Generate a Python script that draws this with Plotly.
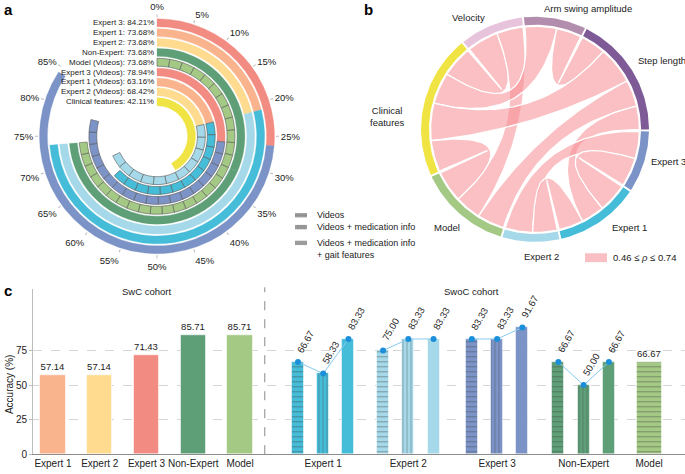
import math
import plotly.graph_objects as go

W, H = 685, 474


def px_x(x):
    return x / W


def px_y(y):
    return 1 - y / H


FONT = "Liberation Sans, Arial, sans-serif"
TXT = "#222222"

# ---------------- Panel a data ----------------
ring_labels = ["Expert 3", "Expert 1", "Expert 2", "Non-Expert", "Model (Videos)",
               "Expert 3 (Videos)", "Expert 1 (Videos)", "Expert 2 (Videos)", "Clinical features"]
ring_total = [84.21, 73.68, 73.68, 73.68, 73.68, 78.94, 63.16, 68.42, 42.11]
ring_swc = [26.32, 21.05, 21.05, 31.58, 31.58, 26.32, 21.05, 21.05, 42.11]
ring_swoc = [57.89, 52.63, 52.63, 42.10, 42.10, 52.63, 42.11, 47.37, 0.0]
pct_ticks = list(range(0, 90, 5))

# ---------------- Panel b data ----------------
chord_nodes = ["Velocity", "Arm swing amplitude", "Step length", "Expert 3",
               "Expert 1", "Expert 2", "Model", "Clinical features"]
chord_src = ["Velocity", "Velocity", "Arm swing amplitude", "Arm swing amplitude",
             "Step length", "Step length", "Step length", "Expert 3", "Expert 3",
             "Expert 1", "Model"]
chord_dst = ["Clinical features", "Model", "Clinical features", "Step length",
             "Clinical features", "Model", "Expert 1", "Expert 2", "Expert 1",
             "Expert 2", "Clinical features"]
chord_rho = [0.62, 0.52, 0.62, 0.49, 0.74, 0.53, 0.46, 0.54, 0.57, 0.48, 0.62]

# ---------------- Panel c data ----------------
swc_labels = ["Expert 1", "Expert 2", "Expert 3", "Non-Expert", "Model"]
swc_acc = [57.14, 57.14, 71.43, 85.71, 85.71]
swoc_labels = ["Expert 1", "Expert 2", "Expert 3", "Non-Expert", "Model"]
swoc_videos = [66.67, 75.00, 83.33, 66.67, 66.67]
swoc_med = [58.33, 83.33, 83.33, 50.00]
swoc_gait = [83.33, 83.33, 91.67, 66.67]

# ---------------- styles ----------------
C_E1, C_E2, C_E3 = "#F9B48E", "#FEDB8F", "#F28B82"
C_NE, C_MO = "#5E9F78", "#A3C985"
C_E1o, C_E2o, C_E3o = "#45BCD8", "#A5D8E8", "#7B93C6"
C_CF = "#EFE443"
ring_swc_colors = [C_E3, C_E1, C_E2, C_NE, C_MO, C_E3, C_E1, C_E2, C_CF]
ring_swoc_colors = [C_E3o, C_E1o, C_E2o, C_NE, C_MO, C_E3o, C_E1o, C_E2o, C_CF]
ring_swc_cells = [False, False, False, False, True, False, False, False, False]
ring_swoc_cells = [False, False, False, False, True, True, True, True, False]

node_colors = {"Velocity": "#E8C4DC", "Arm swing amplitude": "#B38DAD", "Step length": "#7E5A96",
               "Expert 3": "#7B93C6", "Expert 1": "#45BCD8", "Expert 2": "#A5D8E8",
               "Model": "#A3C985", "Clinical features": "#EFE443"}
end_order = {
    "Velocity": ["Clinical features", "Model"],
    "Arm swing amplitude": ["Clinical features", "Step length"],
    "Step length": ["Arm swing amplitude", "Clinical features", "Model", "Expert 1"],
    "Expert 3": ["Expert 2", "Expert 1"],
    "Expert 1": ["Expert 3", "Step length", "Expert 2"],
    "Expert 2": ["Expert 1", "Expert 3"],
    "Model": ["Step length", "Velocity", "Clinical features"],
    "Clinical features": ["Model", "Step length", "Arm swing amplitude", "Velocity"],
}

fig = go.Figure()
annotations = []
shapes = []

# ================= Panel a : radial bars =================
R_PX, R_MAX, PITCH, THICK, INNER0 = 120.0, 12.0, 1.0, 0.8, 3.1
CX_A, CY_A = 157, 138
n_rings = len(ring_labels)
rr, bb, th, ww, cc, lc, lw = [], [], [], [], [], [], []


def add_seg(base, p0, p1, col, line_col, line_w):
    rr.append(THICK)
    bb.append(base)
    th.append((p0 + p1) / 2 * 3.6)
    ww.append((p1 - p0) * 3.6)
    cc.append(col)
    lc.append(line_col)
    lw.append(line_w)


for i in range(n_rings):
    base = INNER0 + (n_rings - 1 - i) * PITCH
    segs = [(0.0, ring_swc[i], ring_swc_colors[i], ring_swc_cells[i]),
            (ring_swc[i], ring_swc[i] + ring_swoc[i], ring_swoc_colors[i], ring_swoc_cells[i])]
    for p0, p1, col, cells in segs:
        if p1 - p0 <= 0:
            continue
        if cells:
            arc_px = math.radians((p1 - p0) * 3.6) * (base + THICK / 2) * R_PX / R_MAX
            k = max(1, round(arc_px / 12))
            for j in range(k):
                add_seg(base, p0 + (p1 - p0) * j / k, p0 + (p1 - p0) * (j + 1) / k, col, "#5a5a5a", 0.6)
        else:
            add_seg(base, p0, p1, col, col, 0.3)
    ly = CY_A - (base + THICK / 2) * R_PX / R_MAX
    annotations.append(dict(x=px_x(CX_A - 1), y=px_y(ly), xref="paper", yref="paper",
                            text=f"{ring_labels[i]}: {ring_total[i]:.2f}%", showarrow=False,
                            xanchor="right", yanchor="middle", font=dict(size=8, color=TXT)))

fig.add_trace(go.Barpolar(r=rr, base=bb, theta=th, width=ww,
                          marker=dict(color=cc, line=dict(color=lc, width=lw)),
                          subplot="polar", showlegend=False, hoverinfo="skip"))

# legend of panel a
leg_items = [("Videos", 218, "h"), ("Videos + medication info", 230, "v"),
             ("Videos + medication info<br>+ gait features", 246, "s")]
for text, y, kind in leg_items:
    shapes.append(dict(type="rect", xref="paper", yref="paper", x0=px_x(295), x1=px_x(307),
                       y0=px_y(y + 2.2), y1=px_y(y - 2.2), fillcolor="#9c9c9c", line=dict(width=0)))
    if kind == "h":
        shapes.append(dict(type="line", xref="paper", yref="paper", x0=px_x(295), x1=px_x(307),
                           y0=px_y(y), y1=px_y(y), line=dict(color="#808080", width=0.6)))
    elif kind == "v":
        for xx in (298, 301, 304):
            shapes.append(dict(type="line", xref="paper", yref="paper", x0=px_x(xx), x1=px_x(xx),
                               y0=px_y(y + 2.2), y1=px_y(y - 2.2), line=dict(color="#808080", width=0.6)))
    annotations.append(dict(x=px_x(315), y=px_y(y if kind != "s" else y + 6), xref="paper", yref="paper",
                            text=text, showarrow=False, xanchor="left", yanchor="middle", align="left",
                            font=dict(size=9, color=TXT)))

# ================= Panel b : chord diagram =================
GAP = 1.0
START = 321.0
RC, RA_IN, RA_OUT = 0.985, 1.0, 1.075
CX_B, CY_B, UNIT_B = 535, 131, 106
rho_of = {}
for s, d, r in zip(chord_src, chord_dst, chord_rho):
    rho_of[(s, d)] = r
    rho_of[(d, s)] = r
kdeg = (360 - GAP * len(chord_nodes)) / (2 * sum(chord_rho))
ends, node_span = {}, {}
cur = START
for node in chord_nodes:
    s0 = cur
    for partner in end_order[node]:
        w = rho_of[(node, partner)] * kdeg
        ends[(node, partner)] = (cur, cur + w)
        cur += w
    node_span[node] = (s0, cur)
    cur += GAP


def pt(t, r):
    a = math.radians(t)
    return r * math.sin(a), r * math.cos(a)


def arc(t1, t2, r):
    n = max(2, int(abs(t2 - t1) / 1.0) + 2)
    return [pt(t1 + (t2 - t1) * i / (n - 1), r) for i in range(n)]


def bez(p0, p2, n=50):
    out = []
    for i in range(n + 1):
        s = i / n
        out.append(((1 - s) ** 2 * p0[0] + s ** 2 * p2[0], (1 - s) ** 2 * p0[1] + s ** 2 * p2[1]))
    return out


for s, d in zip(chord_src, chord_dst):
    a1, a2 = ends[(s, d)]
    b1, b2 = ends[(d, s)]
    pts = arc(a1, a2, RC) + bez(pt(a2, RC), pt(b1, RC)) + arc(b1, b2, RC) + bez(pt(b2, RC), pt(a1, RC))
    fig.add_trace(go.Scatter(x=[p[0] for p in pts], y=[p[1] for p in pts], mode="lines",
                             fill="toself", fillcolor="rgba(245,140,145,0.55)",
                             line=dict(color="white", width=1.3), xaxis="x", yaxis="y",
                             showlegend=False, hoverinfo="skip"))

for node in chord_nodes:
    t1, t2 = node_span[node]
    pts = arc(t1, t2, RA_OUT) + arc(t2, t1, RA_IN)
    fig.add_trace(go.Scatter(x=[p[0] for p in pts], y=[p[1] for p in pts], mode="lines",
                             fill="toself", fillcolor=node_colors[node], line=dict(width=0),
                             xaxis="x", yaxis="y", showlegend=False, hoverinfo="skip"))

node_label_pos = {
    "Velocity": (-0.632, 1.07, "center"),
    "Arm swing amplitude": (0.5, 1.15, "center"),
    "Step length": (0.95, 0.66, "left"),
    "Expert 3": (1.075, -0.311, "left"),
    "Expert 1": (0.708, -0.934, "left"),
    "Expert 2": (0.057, -1.217, "center"),
    "Model": (-0.83, -0.934, "center"),
    "Clinical features": (-1.387, 0.123, "center"),
}
for node in chord_nodes:
    x, y, anc = node_label_pos[node]
    txt = "Clinical<br>features" if node == "Clinical features" else node
    annotations.append(dict(x=px_x(CX_B + x * UNIT_B), y=px_y(CY_B - y * UNIT_B), xref="paper", yref="paper",
                            text=txt, showarrow=False, xanchor=anc, yanchor="middle",
                            font=dict(size=9.5, color=TXT)))

shapes.append(dict(type="rect", xref="paper", yref="paper", x0=px_x(585), x1=px_x(607),
                   y0=px_y(265.5), y1=px_y(256.5), fillcolor="#F9BFC2", line=dict(width=0)))
annotations.append(dict(x=px_x(611), y=px_y(261), xref="paper", yref="paper",
                        text=f"{min(chord_rho):.2f} ≤ <i>ρ</i> ≤ {max(chord_rho):.2f}", showarrow=False,
                        xanchor="left", yanchor="middle", font=dict(size=9.5, color=TXT)))

# ================= Panel c : bars =================
swc_colors = [C_E1, C_E2, C_E3, C_NE, C_MO]
swoc_colors = [C_E1o, C_E2o, C_E3o, C_NE, C_MO]
swoc_dark = ["#2f9fbb", "#7fb8cb", "#5b72a6", "#457f5c", "#82a865"]
swc_x = list(range(len(swc_labels)))
swoc_centers = [5.78, 7.6, 9.5, 11.35, 12.75]
OFF = 0.54
BW_SMALL, BW_BIG = 0.257, 0.535

fig.add_trace(go.Bar(x=swc_x, y=swc_acc, width=BW_BIG, marker=dict(color=swc_colors,
              line=dict(color="rgba(255,255,255,0.55)", width=1)),
              text=[f"{v:.2f}" for v in swc_acc], textposition="outside", cliponaxis=False,
              textfont=dict(size=9.5, color=TXT), xaxis="x2", yaxis="y2",
              showlegend=False, hoverinfo="skip"))

ng = len(swoc_med)
vx = [swoc_centers[g] - OFF for g in range(ng)] + [swoc_centers[ng]]
fig.add_trace(go.Bar(x=vx, y=swoc_videos, width=[BW_SMALL] * ng + [BW_BIG],
              marker=dict(color=swoc_colors, line=dict(color="rgba(255,255,255,0.5)", width=1),
                          pattern=dict(shape="-", fgcolor=swoc_dark, size=5, solidity=0.18)),
              xaxis="x2", yaxis="y2", showlegend=False, hoverinfo="skip"))
mx = [swoc_centers[g] for g in range(ng)]
fig.add_trace(go.Bar(x=mx, y=swoc_med, width=BW_SMALL,
              marker=dict(color=swoc_colors[:ng], line=dict(color="rgba(255,255,255,0.5)", width=1),
                          pattern=dict(shape="|", fgcolor=swoc_dark[:ng], size=4, solidity=0.18)),
              xaxis="x2", yaxis="y2", showlegend=False, hoverinfo="skip"))
gx = [swoc_centers[g] + OFF for g in range(ng)]
fig.add_trace(go.Bar(x=gx, y=swoc_gait, width=BW_SMALL,
              marker=dict(color=swoc_colors[:ng], line=dict(color="rgba(255,255,255,0.5)", width=1)),
              xaxis="x2", yaxis="y2", showlegend=False, hoverinfo="skip"))

for g in range(ng):
    xs = [vx[g], mx[g], gx[g]]
    ys = [swoc_videos[g], swoc_med[g], swoc_gait[g]]
    fig.add_trace(go.Scatter(x=xs, y=ys, mode="lines+markers", line=dict(color="#86CBEF", width=1),
                             marker=dict(color="#1B8FDA", size=6), xaxis="x2", yaxis="y2",
                             showlegend=False, hoverinfo="skip", cliponaxis=False))
    for x, y in zip(xs, ys):
        annotations.append(dict(x=x, y=y, xref="x2", yref="y2", text=f"{y:.2f}", showarrow=False,
                                textangle=-60, xanchor="left", yanchor="bottom", xshift=-6, yshift=5,
                                font=dict(size=9.5, color=TXT)))
annotations.append(dict(x=vx[ng], y=swoc_videos[ng], xref="x2", yref="y2", text=f"{swoc_videos[ng]:.2f}",
                        showarrow=False, xanchor="center", yanchor="bottom", yshift=1,
                        font=dict(size=9.5, color=TXT)))

SEP = 4.53
shapes.append(dict(type="line", xref="x2", yref="paper", x0=SEP, x1=SEP, y0=px_y(460), y1=px_y(291),
                   line=dict(color="#8a8a8a", width=1, dash="dash")))
annotations.append(dict(x=2.0, y=px_y(295), xref="x2", yref="paper", text="SwC cohort", showarrow=False,
                        xanchor="center", yanchor="middle", font=dict(size=9.5, color=TXT)))
annotations.append(dict(x=px_x(471.5), y=px_y(295), xref="paper", yref="paper", text="SwoC cohort",
                        showarrow=False, xanchor="center", yanchor="middle", font=dict(size=9.5, color=TXT)))
annotations.append(dict(x=px_x(9), y=px_y(390), xref="paper", yref="paper", text="Accuracy (%)",
                        showarrow=False, textangle=-90, xanchor="center", yanchor="middle",
                        font=dict(size=10, color=TXT)))

# panel letters
for letter, x, y in (("a", 2, 10), ("b", 362, 10), ("c", 2, 294)):
    annotations.append(dict(x=px_x(x), y=px_y(y), xref="paper", yref="paper", text=f"<b>{letter}</b>",
                            showarrow=False, xanchor="left", yanchor="middle",
                            font=dict(size=15, color="#000")))

U = 46.75  # px per category unit in panel c
RB = 120 / UNIT_B
fig.update_layout(
    width=W, height=H, margin=dict(l=0, r=0, t=0, b=0),
    paper_bgcolor="white", plot_bgcolor="white",
    font=dict(family=FONT, color=TXT),
    barmode="overlay", bargap=0,
    polar=dict(
        domain=dict(x=[px_x(CX_A - R_PX), px_x(CX_A + R_PX)], y=[px_y(CY_A + R_PX), px_y(CY_A - R_PX)]),
        bgcolor="white",
        radialaxis=dict(visible=False, range=[0, R_MAX]),
        angularaxis=dict(rotation=90, direction="clockwise", thetaunit="degrees",
                         tickmode="array", tickvals=[p * 3.6 for p in pct_ticks],
                         ticktext=[f"{p}%" for p in pct_ticks], showgrid=False, showline=False,
                         ticks="outside", ticklen=3, tickcolor="#bbbbbb",
                         tickfont=dict(size=9.5, color=TXT)),
    ),
    xaxis=dict(domain=[px_x(CX_B - 120), px_x(CX_B + 120)], range=[-RB, RB], visible=False, fixedrange=True),
    yaxis=dict(domain=[px_y(CY_B + 120), px_y(CY_B - 120)], range=[-RB, RB], visible=False, fixedrange=True),
    xaxis2=dict(domain=[px_x(33), 1.0], range=[(33 - 53) / U, (685 - 53) / U], anchor="y2",
                tickmode="array", tickvals=swc_x + swoc_centers, ticktext=swc_labels + swoc_labels,
                showline=True, linecolor="#8c8c8c", linewidth=1, ticks="", showgrid=False,
                zeroline=False, tickfont=dict(size=10, color=TXT)),
    yaxis2=dict(domain=[px_y(460), px_y(293)], range=[0, 119.3], anchor="x2",
                tickmode="array", tickvals=[0, 25, 50, 75], showgrid=True, gridcolor="#d6d6d6",
                griddash="dash", gridwidth=1, showline=True, linecolor="#bdbdbd", ticks="outside",
                ticklen=3, tickcolor="#bdbdbd", zeroline=False, tickfont=dict(size=10, color=TXT)),
    annotations=annotations,
    shapes=shapes,
)

fig.write_html("out.html", config={"displayModeBar": False},
               post_script="document.body.style.margin='0px';document.body.style.overflow='hidden';")
